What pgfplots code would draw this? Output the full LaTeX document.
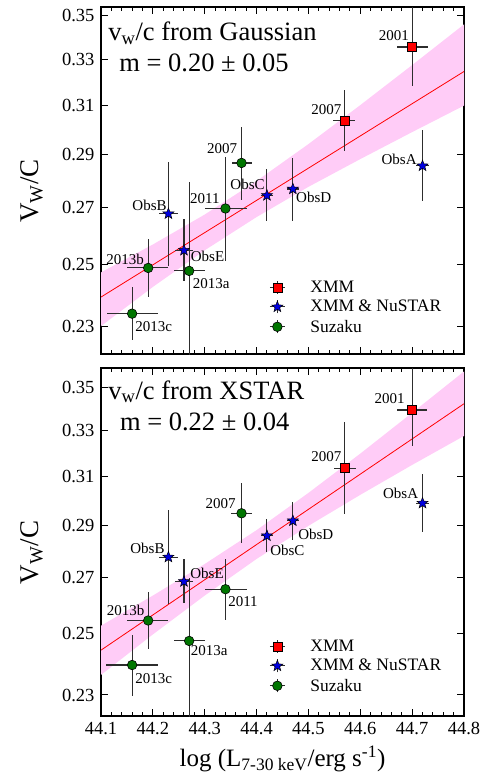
\documentclass[border=0pt]{standalone}
\usepackage{fontspec}
\setmainfont{Liberation Serif}
\usepackage{pgfplots}
\usepackage{pgfplotstable}
\pgfplotsset{compat=1.18}
\definecolor{bandpink}{RGB}{255,204,247}
\definecolor{mygreen}{RGB}{0,118,0}
\definecolor{myblue}{RGB}{0,0,225}
\definecolor{errgray}{RGB}{45,45,45}

\pgfdeclareplotmark{fstar}{%
  \pgfpathmoveto{\pgfpointpolar{90}{\pgfplotmarksize}}%
  \pgfpathlineto{\pgfpointpolar{126}{0.42\pgfplotmarksize}}%
  \pgfpathlineto{\pgfpointpolar{162}{\pgfplotmarksize}}%
  \pgfpathlineto{\pgfpointpolar{198}{0.42\pgfplotmarksize}}%
  \pgfpathlineto{\pgfpointpolar{234}{\pgfplotmarksize}}%
  \pgfpathlineto{\pgfpointpolar{270}{0.42\pgfplotmarksize}}%
  \pgfpathlineto{\pgfpointpolar{306}{\pgfplotmarksize}}%
  \pgfpathlineto{\pgfpointpolar{342}{0.42\pgfplotmarksize}}%
  \pgfpathlineto{\pgfpointpolar{18}{\pgfplotmarksize}}%
  \pgfpathlineto{\pgfpointpolar{54}{0.42\pgfplotmarksize}}%
  \pgfpathclose
  \pgfusepathqfillstroke
}

\pgfplotstableread{
x y xm xp ym yp
44.57 0.3037 0.022 0.020 0.0123 0.0130
44.70 0.3355 0.030 0.030 0.0174 0.0245
}\topxmm
\pgfplotstableread{
x y xm xp ym yp
44.230 0.2679 0.0177 0.0177 0.0181 0.0194
44.260 0.2550 0.0177 0.0177 0.0105 0.0110
44.420 0.2746 0.012 0.012 0.0092 0.0100
44.470 0.2770 0.012 0.012 0.0119 0.0118
44.720 0.2858 0.012 0.012 0.0134 0.0142
}\topnu
\pgfplotstableread{
x y xm xp ym yp
44.160 0.2341 0.049 0.0505 0.0083 0.0086
44.191 0.2490 0.040 0.039 0.0096 0.0099
44.270 0.2480 0.029 0.030 0.0400 0.0316
44.340 0.2698 0.040 0.041 0.0186 0.0194
44.371 0.2869 0.019 0.020 0.0139 0.0141
}\topsz
\pgfplotstableread{
x y xm xp ym yp
44.57 0.3134 0.021 0.021 0.0191 0.0205
44.70 0.3393 0.029 0.029 0.0161 0.0260
}\botxmm
\pgfplotstableread{
x y xm xp ym yp
44.230 0.2776 0.0177 0.0177 0.0173 0.0185
44.260 0.2685 0.0177 0.0177 0.0078 0.0083
44.420 0.2858 0.012 0.012 0.0061 0.0066
44.470 0.2917 0.012 0.012 0.0075 0.0075
44.720 0.2988 0.012 0.012 0.0114 0.0120
}\botnu
\pgfplotstableread{
x y xm xp ym yp
44.160 0.2396 0.050 0.050 0.0099 0.0101
44.191 0.2546 0.040 0.039 0.0097 0.0102
44.270 0.2476 0.030 0.030 0.0400 0.0221
44.340 0.2657 0.040 0.041 0.0109 0.0111
44.371 0.2947 0.020 0.020 0.0118 0.0123
}\botsz

\tikzset{
  lab/.style={font=\fontsize{15}{16}\selectfont, inner sep=0pt},
  ttl/.style={font=\fontsize{26.5}{28}\selectfont, inner sep=0pt, anchor=west},
}

\pgfplotsset{
  every axis/.append style={
    scale only axis, width=363pt,
    xmin=44.1, xmax=44.8,
    xtick={44.1,44.2,44.3,44.4,44.5,44.6,44.7,44.8},
    minor x tick num=4,
    ytick={0.23,0.25,0.27,0.29,0.31,0.33,0.35},
    yticklabels={\textnormal{0.23},\textnormal{0.25},\textnormal{0.27},\textnormal{0.29},\textnormal{0.31},\textnormal{0.33},\textnormal{0.35}},
    yminorticks=false,
    tick align=inside, xtick pos=both, ytick pos=both,
    xticklabel pos=lower, yticklabel pos=left,
    major tick length=7pt, minor tick length=4pt,
    axis line style={line width=1.1pt},
    tick style={black, line width=1pt},
    tick label style={font=\fontsize{18.5}{20}\selectfont},
    xticklabel shift=3pt, yticklabel shift=3pt,
    ylabel style={font=\fontsize{27}{30}\selectfont, at={(axis description cs:-0.19,0.47)}, anchor=center},
    legend style={draw=none, fill=none, font=\fontsize{17.5}{19}\selectfont,
      legend cell align=left, row sep=4.5pt, nodes={inner sep=1pt},
      /tikz/every odd column/.append style={column sep=24pt}},
    legend image code/.code={
      \draw[errgray, line width=1pt] (0pt,0pt)--(15pt,0pt) (7.5pt,-6.5pt)--(7.5pt,6.5pt);
      \draw plot coordinates {(7.5pt,0pt)};
    },
  },
}

\begin{document}
\begin{tikzpicture}
\path[use as bounding box] (0pt,0pt) rectangle (491pt,778pt);

% ---------------- top panel ----------------
\begin{axis}[ymode=log, at={(101pt,424pt)}, anchor=south west, height=347pt,
  ymin=0.2217, ymax=0.3541, xticklabels={},
  ylabel={V\textsubscript{W}/C},
  legend style={at={(axis description cs:0.455,0.220)}, anchor=north west}]
\addplot[fill=bandpink, draw=none, forget plot] coordinates {
 (44.1,0.2475) (44.2,0.2570) (44.3,0.2676) (44.4,0.2800) (44.5,0.2943) (44.6,0.3102) (44.7,0.3274) (44.8,0.3459)
 (44.8,0.3100) (44.7,0.2991) (44.6,0.2884) (44.5,0.2778) (44.4,0.2667) (44.3,0.2550) (44.2,0.2427) (44.1,0.2302)
} -- cycle;
\addplot[red, line width=0.8pt, forget plot] coordinates {(44.1,0.2394) (44.8,0.3246)};
\addplot[forget plot, only marks, mark=square*, mark size=4.5pt, mark options={fill=red, draw=black, line width=0.6pt}, error bars/.cd, x dir=both, x explicit, y dir=both, y explicit, error mark=none, error bar style={errgray, line width=1.1pt}] table[x=x, y=y, x error plus=xp, x error minus=xm, y error plus=yp, y error minus=ym] {\topxmm};
\addplot[forget plot, only marks, mark=fstar, mark size=5.8pt, mark options={fill=myblue, draw=black, line width=0.5pt}, error bars/.cd, x dir=both, x explicit, y dir=both, y explicit, error mark=none, error bar style={errgray, line width=1.1pt}] table[x=x, y=y, x error plus=xp, x error minus=xm, y error plus=yp, y error minus=ym] {\topnu};
\addplot[forget plot, only marks, mark=*, mark size=4.8pt, mark options={fill=mygreen, draw=black, line width=0.6pt}, error bars/.cd, x dir=both, x explicit, y dir=both, y explicit, error mark=none, error bar style={errgray, line width=1.1pt}] table[x=x, y=y, x error plus=xp, x error minus=xm, y error plus=yp, y error minus=ym] {\topsz};
\addlegendimage{only marks, mark=square*, mark size=4.5pt, mark options={fill=red, draw=black, line width=0.6pt}}
\addlegendentry{XMM}
\addlegendimage{only marks, mark=fstar, mark size=5.8pt, mark options={fill=myblue, draw=black, line width=0.5pt}}
\addlegendentry{XMM \& NuSTAR}
\addlegendimage{only marks, mark=*, mark size=4.8pt, mark options={fill=mygreen, draw=black, line width=0.6pt}}
\addlegendentry{Suzaku}
\node[lab, anchor=east] at (axis cs:44.694,0.3408) {2001};
\node[lab, anchor=east] at (axis cs:44.564,0.3083) {2007};
\node[lab, anchor=east] at (axis cs:44.709,0.2882) {ObsA};
\node[lab, anchor=west] at (axis cs:44.476,0.2739) {ObsD};
\node[lab, anchor=east] at (axis cs:44.416,0.2786) {ObsC};
\node[lab, anchor=east] at (axis cs:44.363,0.2924) {2007};
\node[lab, anchor=east] at (axis cs:44.329,0.2734) {2011};
\node[lab, anchor=east] at (axis cs:44.227,0.2711) {ObsB};
\node[lab, anchor=west] at (axis cs:44.273,0.2529) {ObsE};
\node[lab, anchor=west] at (axis cs:44.277,0.2437) {2013a};
\node[lab, anchor=west] at (axis cs:44.110,0.2520) {2013b};
\node[lab, anchor=west] at (axis cs:44.166,0.2301) {2013c};
\node[ttl] at (axis description cs:0.020,0.924) {v\textsubscript{w}/c from Gaussian};
\node[ttl] at (axis description cs:0.050,0.838) {m = 0.20 ± 0.05};
\end{axis}

% ---------------- bottom panel ----------------
\begin{axis}[ymode=log, at={(101pt,62pt)}, anchor=south west, height=348pt,
  ymin=0.2235, ymax=0.3593,
  xticklabels={\textnormal{44.1},\textnormal{44.2},\textnormal{44.3},\textnormal{44.4},\textnormal{44.5},\textnormal{44.6},\textnormal{44.7},\textnormal{44.8}},
  ylabel={V\textsubscript{W}/C},
  xlabel={log (L\textsubscript{7-30 keV}/erg s\textsuperscript{-1})},
  xlabel style={font=\fontsize{25}{27}\selectfont, at={(axis description cs:0.5,-0.124)}, anchor=center},
  legend style={at={(axis description cs:0.455,0.228)}, anchor=north west}]
\addplot[fill=bandpink, draw=none, forget plot] coordinates {
 (44.1,0.2528) (44.2,0.2634) (44.3,0.2750) (44.4,0.2880) (44.5,0.3030) (44.6,0.3197) (44.7,0.3380) (44.8,0.3576)
 (44.8,0.3275) (44.7,0.3148) (44.6,0.3022) (44.5,0.2897) (44.4,0.2769) (44.3,0.2634) (44.2,0.2498) (44.1,0.2364)
} -- cycle;
\addplot[red, line width=0.8pt, forget plot] coordinates {(44.1,0.2445) (44.8,0.3422)};
\addplot[forget plot, only marks, mark=square*, mark size=4.5pt, mark options={fill=red, draw=black, line width=0.6pt}, error bars/.cd, x dir=both, x explicit, y dir=both, y explicit, error mark=none, error bar style={errgray, line width=1.1pt}] table[x=x, y=y, x error plus=xp, x error minus=xm, y error plus=yp, y error minus=ym] {\botxmm};
\addplot[forget plot, only marks, mark=fstar, mark size=5.8pt, mark options={fill=myblue, draw=black, line width=0.5pt}, error bars/.cd, x dir=both, x explicit, y dir=both, y explicit, error mark=none, error bar style={errgray, line width=1.1pt}] table[x=x, y=y, x error plus=xp, x error minus=xm, y error plus=yp, y error minus=ym] {\botnu};
\addplot[forget plot, only marks, mark=*, mark size=4.8pt, mark options={fill=mygreen, draw=black, line width=0.6pt}, error bars/.cd, x dir=both, x explicit, y dir=both, y explicit, error mark=none, error bar style={errgray, line width=1.1pt}] table[x=x, y=y, x error plus=xp, x error minus=xm, y error plus=yp, y error minus=ym] {\botsz};
\addlegendimage{only marks, mark=square*, mark size=4.5pt, mark options={fill=red, draw=black, line width=0.6pt}}
\addlegendentry{XMM}
\addlegendimage{only marks, mark=fstar, mark size=5.8pt, mark options={fill=myblue, draw=black, line width=0.5pt}}
\addlegendentry{XMM \& NuSTAR}
\addlegendimage{only marks, mark=*, mark size=4.8pt, mark options={fill=mygreen, draw=black, line width=0.6pt}}
\addlegendentry{Suzaku}
\node[lab, anchor=east] at (axis cs:44.686,0.3448) {2001};
\node[lab, anchor=east] at (axis cs:44.564,0.3184) {2007};
\node[lab, anchor=east] at (axis cs:44.712,0.3029) {ObsA};
\node[lab, anchor=east] at (axis cs:44.360,0.2988) {2007};
\node[lab, anchor=west] at (axis cs:44.480,0.2864) {ObsD};
\node[lab, anchor=west] at (axis cs:44.426,0.2800) {ObsC};
\node[lab, anchor=east] at (axis cs:44.223,0.2810) {ObsB};
\node[lab, anchor=west] at (axis cs:44.272,0.2716) {ObsE};
\node[lab, anchor=west] at (axis cs:44.345,0.2612) {2011};
\node[lab, anchor=west] at (axis cs:44.111,0.2580) {2013b};
\node[lab, anchor=west] at (axis cs:44.273,0.2443) {2013a};
\node[lab, anchor=west] at (axis cs:44.166,0.2353) {2013c};
\node[ttl] at (axis description cs:0.020,0.932) {v\textsubscript{w}/c from XSTAR};
\node[ttl] at (axis description cs:0.052,0.846) {m = 0.22 ± 0.04};
\end{axis}
\end{tikzpicture}
\end{document}
